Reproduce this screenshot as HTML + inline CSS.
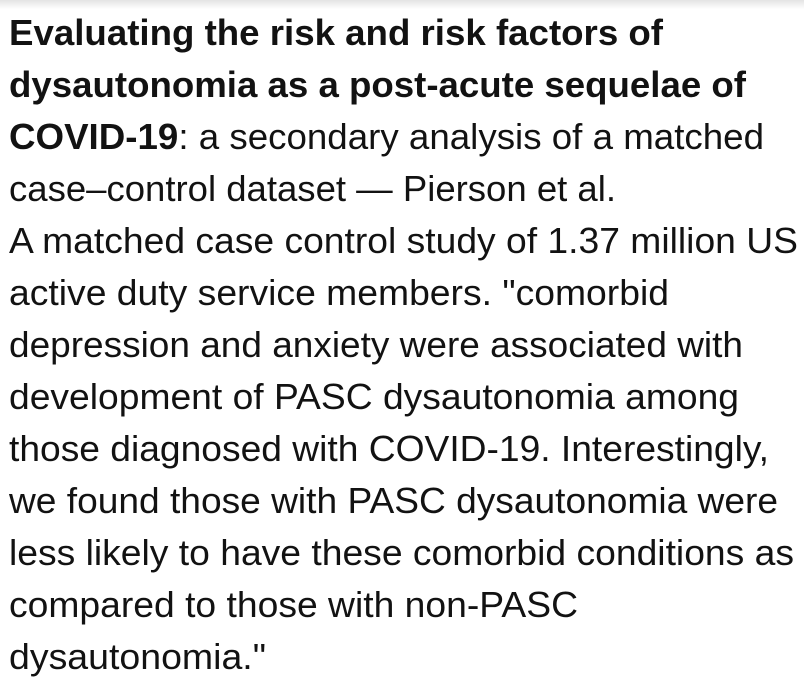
<!DOCTYPE html>
<html>
<head>
<meta charset="utf-8">
<style>
  html, body { margin:0; padding:0; background:#fff; }
  body { width:804px; height:687px; position:relative; overflow:hidden;
         font-family:"Liberation Sans", Arial, sans-serif; color:#121212; }
  .shade { position:absolute; left:0; top:0; width:804px; height:9px;
           background:linear-gradient(#e4e4e4, #ffffff); }
  .ln { position:absolute; left:9px; white-space:nowrap; font-size:36px;
        line-height:52px; transform-origin:0 0; }
  b { font-weight:bold; }
</style>
</head>
<body>
<div class="shade"></div>
<div class="ln" data-r="663" style="top:7px"><b>Evaluating the risk and risk factors of</b></div>
<div class="ln" data-r="746" style="top:59px"><b>dysautonomia as a post-acute sequelae of</b></div>
<div class="ln" data-r="764" style="top:111px"><b>COVID-19</b>: a secondary analysis of a matched</div>
<div class="ln" data-r="616" style="top:163px">case–control dataset — Pierson et al.</div>
<div class="ln" data-r="798" style="top:215px">A matched case control study of 1.37 million US</div>
<div class="ln" data-r="669" style="top:267px">active duty service members. "comorbid</div>
<div class="ln" data-r="743" style="top:319px">depression and anxiety were associated with</div>
<div class="ln" data-r="739" style="top:371px">development of PASC dysautonomia among</div>
<div class="ln" data-r="769" style="top:423px">those diagnosed with COVID-19. Interestingly,</div>
<div class="ln" data-r="778" style="top:475px">we found those with PASC dysautonomia were</div>
<div class="ln" data-r="794" style="top:527px">less likely to have these comorbid conditions as</div>
<div class="ln" data-r="578" style="top:579px">compared to those with non-PASC</div>
<div class="ln" data-r="266" style="top:631px">dysautonomia."</div>
<script>
  document.querySelectorAll('.ln').forEach(function(el){
    var target = parseFloat(el.getAttribute('data-r')) - 9;
    var w = el.getBoundingClientRect().width;
    if (w > 0) el.style.transform = 'scaleX(' + (target / w) + ')';
  });
</script>
</body>
</html>
